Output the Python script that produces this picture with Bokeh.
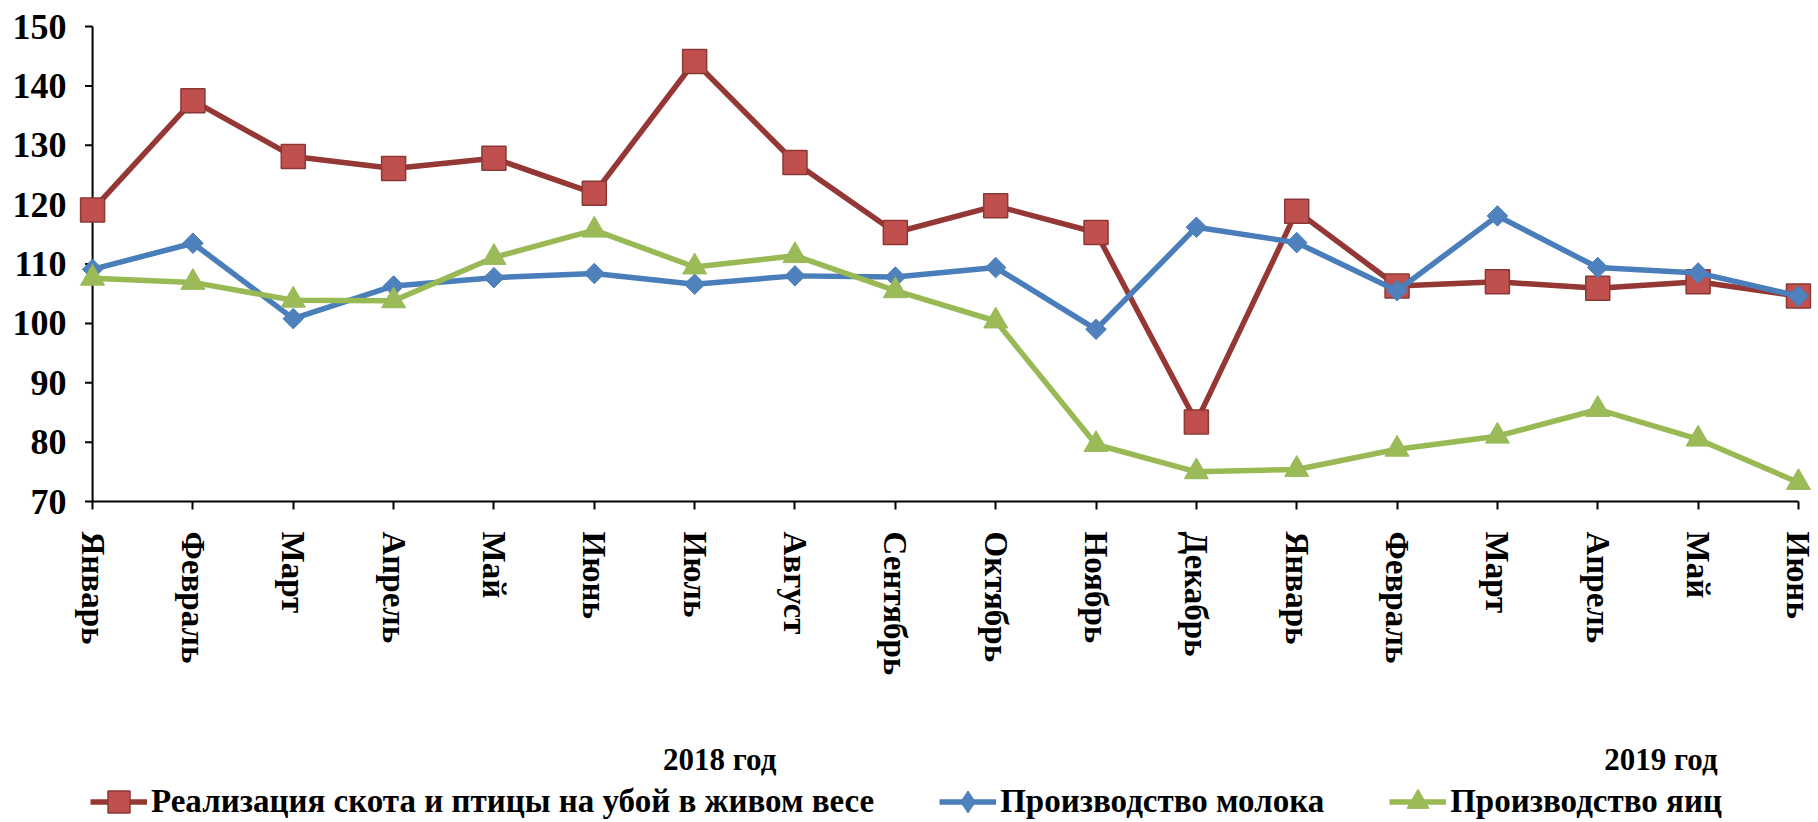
import math
from bokeh.plotting import figure
from bokeh.models import Range1d, FixedTicker, Legend, LegendItem, Label
from bokeh.embed import file_html
from bokeh.resources import INLINE

months = ["Январь", "Февраль", "Март", "Апрель", "Май", "Июнь", "Июль", "Август",
          "Сентябрь", "Октябрь", "Ноябрь", "Декабрь",
          "Январь", "Февраль", "Март", "Апрель", "Май", "Июнь"]
years = ["2018 год", "2019 год"]
series_names = ["Реализация скота и птицы на убой в живом весе",
                "Производство молока", "Производство яиц"]
livestock = [119.1, 137.5, 128.1, 126.1, 127.8, 121.9, 144.1, 127.1, 115.3, 119.8,
             115.3, 83.4, 118.9, 106.3, 107.0, 105.9, 107.0, 104.6]
milk = [109.1, 113.5, 100.8, 106.3, 107.7, 108.4, 106.6, 108.0, 107.8, 109.4,
        99.0, 116.2, 113.6, 105.5, 118.1, 109.4, 108.5, 104.6]
eggs = [107.6, 106.9, 103.9, 103.8, 111.1, 115.7, 109.5, 111.4, 105.5, 100.4,
        79.6, 75.0, 75.4, 78.8, 81.0, 85.5, 80.5, 73.2]
y_ticks = [70, 80, 90, 100, 110, 120, 130, 140, 150]

FONT = "Liberation Serif"
x = list(range(len(months)))

# layout: value axis spans 475 px for 80 units; frame reaches the canvas bottom
PX = 475.0 / (y_ticks[-1] - y_ticks[0])
y_lo = y_ticks[0] - 321.0 / PX
y_hi = y_ticks[-1] + 2.0 / PX

p = figure(width=1818, height=822,
           x_range=Range1d(-0.21, 17.14), y_range=Range1d(y_lo, y_hi),
           output_backend="svg", toolbar_location=None,
           min_border_left=71, min_border_right=6, min_border_top=24,
           min_border_bottom=0)
p.outline_line_color = None
p.grid.visible = False

# month axis, fixed at the bottom of the value range
xa = p.xaxis[0]
xa.fixed_location = y_ticks[0]
xa.ticker = FixedTicker(ticks=x)
xa.major_label_overrides = {i: m for i, m in enumerate(months)}
xa.bounds = (0, len(months) - 1)
xa.axis_line_width = 2
xa.axis_line_color = "black"
xa.major_tick_line_width = 2
xa.major_tick_line_color = "black"
xa.major_tick_out = 8
xa.major_tick_in = 0
xa.minor_tick_line_color = None
xa.major_label_orientation = "vertical"
xa.major_label_standoff = 22
xa.major_label_text_font = FONT
xa.major_label_text_font_style = "bold"
xa.major_label_text_font_size = "33px"
xa.major_label_text_color = "black"

# y axis: labels from bokeh, line and ticks drawn at the first category
ya = p.yaxis[0]
ya.ticker = FixedTicker(ticks=y_ticks)
ya.axis_line_color = None
ya.major_tick_line_color = None
ya.minor_tick_line_color = None
ya.major_tick_out = 0
ya.major_tick_in = 0
ya.major_label_standoff = 5
ya.major_label_text_font = FONT
ya.major_label_text_font_style = "bold"
ya.major_label_text_font_size = "36px"
ya.major_label_text_color = "black"

p.segment(x0=[x[0]], y0=[y_ticks[0]], x1=[x[0]], y1=[y_ticks[-1]],
          line_color="black", line_width=2)
p.segment(x0=[x[0] - 0.075] * len(y_ticks), y0=y_ticks,
          x1=[x[0]] * len(y_ticks), y1=y_ticks,
          line_color="black", line_width=2)

# series
l1 = p.line(x, livestock, line_color="#953735", line_width=5.5)
m1 = p.scatter(x, livestock, marker="square", size=24, fill_color="#C0504D",
               line_color="#8C3836", line_width=1.5)
l2 = p.line(x, milk, line_color="#4A7EBB", line_width=5.5)
m2 = p.scatter(x, milk, marker="square", angle=math.pi / 4, size=14.5,
               fill_color="#4F81BD", line_color="#4A7EBB", line_width=1)
l3 = p.line(x, eggs, line_color="#98B954", line_width=5.5)
m3 = p.scatter(x, eggs, marker="triangle", size=24, fill_color="#9BBB59",
               line_color="#98B954", line_width=1)
# legend-only diamond (a single undrawn NaN point)
m2_leg = p.scatter(x=[float("nan")], y=[float("nan")], marker="diamond",
                   fill_color="#4F81BD", line_color="#4A7EBB", line_width=1)

legend = Legend(items=[LegendItem(label=series_names[0], renderers=[l1, m1]),
                       LegendItem(label=series_names[1], renderers=[l2, m2_leg]),
                       LegendItem(label=series_names[2], renderers=[l3, m3])],
                orientation="horizontal", location=(19, -7),
                glyph_width=57, glyph_height=55, label_standoff=4, spacing=65,
                padding=0, margin=0, border_line_color=None,
                background_fill_alpha=0,
                label_text_font=FONT, label_text_font_style="bold",
                label_text_font_size="33px", label_text_color="black")
p.add_layout(legend)

# group labels under the month axis (screen px above the canvas bottom)
for xpos, txt in zip([6.25, 15.63], years):
    p.add_layout(Label(x=xpos, y=63, x_units="data", y_units="screen", text=txt,
                       text_align="center", text_baseline="middle",
                       text_font=FONT, text_font_style="bold",
                       text_font_size="31px", text_color="black"))

open("out.html", "w").write(file_html(p, INLINE))
